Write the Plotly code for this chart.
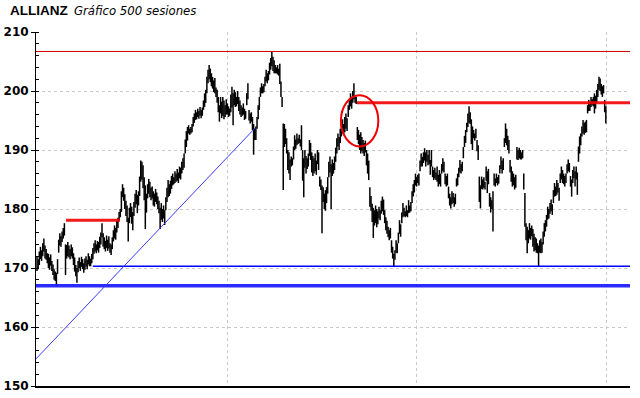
import plotly.graph_objects as go

# ---------------- data ----------------
high = [
    172.0, 171.5, 172.8, 173.6, 173.0, 174.2, 175.0, 173.8, 173.2, 172.5,
    172.4, 171.8, 172.3, 171.2, 170.6, 169.8, 169.4, 169.2, 171.5, 174.8,
    175.9, 175.4, 176.2, 176.8, 177.6, 174.0, 173.9, 174.4, 173.8, 173.2,
    174.0, 173.5, 172.5, 171.8, 170.5, 170.0, 171.2, 171.8, 171.0, 171.9,
    171.5, 170.8, 171.6, 172.0, 171.4, 172.5, 172.0, 171.6, 172.4, 173.4,
    174.2, 174.7, 174.0, 174.6, 174.4, 175.3, 176.0, 177.6, 175.9, 175.2,
    174.6, 175.5, 174.8, 175.4, 174.2, 174.0, 175.2, 176.4, 177.2, 176.8,
    178.0, 178.5, 179.5, 180.0, 183.0, 184.2, 183.6, 182.5, 181.4, 180.6,
    178.5, 180.2, 181.0, 180.4, 179.5, 181.2, 182.6, 183.2, 182.4, 183.0,
    185.5, 188.2, 188.0, 187.4, 185.4, 184.0, 182.6, 184.2, 185.1, 184.6,
    183.6, 183.8, 183.0, 182.6, 183.4, 182.8, 182.1, 181.4, 180.2, 181.0,
    180.0, 180.6, 179.8, 182.0, 183.6, 184.9, 184.2, 184.8, 185.6, 186.0,
    185.4, 186.4, 186.0, 186.8, 186.2, 187.2, 187.0, 188.0, 188.6, 189.4,
    191.8, 193.2, 193.9, 194.2, 193.6, 193.9, 194.4, 195.6, 196.2, 196.8,
    196.4, 197.0, 196.6, 197.3, 196.8, 197.2, 198.4, 199.6, 200.2, 202.4,
    203.6, 204.4, 203.8, 203.0, 202.4, 201.8, 202.2, 200.6, 200.2, 199.0,
    197.6, 199.0, 198.2, 199.0, 198.4, 197.6, 198.6, 197.9, 197.4, 197.0,
    199.4, 200.7, 199.6, 200.2, 199.8, 199.0, 200.0, 199.0, 198.4, 197.6,
    197.2, 197.9, 197.0, 196.6, 199.6, 201.3, 196.8, 196.2, 196.4, 195.6,
    194.4, 193.6, 194.0, 195.6, 197.6, 199.0, 200.6, 201.3, 200.8, 201.2,
    202.4, 203.6, 203.0, 203.4, 204.8, 205.6, 206.7, 205.8, 205.2, 204.4,
    204.0, 204.4, 203.8, 204.6, 201.6, 199.0, 194.5, 194.4, 193.6, 192.0,
    190.0, 189.6, 188.4, 188.9, 188.6, 190.6, 192.5, 191.8, 192.8, 192.0,
    192.6, 191.8, 194.2, 190.0, 188.6, 190.0, 189.0, 188.6, 189.4, 191.7,
    191.2, 189.6, 189.0, 188.6, 189.4, 188.2, 190.0, 189.6, 185.5, 185.0,
    184.0, 183.7, 182.6, 183.2, 183.7, 185.4, 188.0, 188.9, 187.6, 188.4,
    187.8, 188.9, 190.4, 192.0, 192.8, 192.2, 193.6, 194.6, 195.2, 194.4,
    195.6, 196.2, 195.4, 197.6, 198.4, 199.6, 199.0, 200.0, 201.3, 199.0,
    199.0, 193.9, 193.4, 192.6, 193.0, 192.2, 191.7, 191.2, 191.6, 190.0,
    189.4, 188.2, 183.7, 182.2, 180.9, 180.2, 179.8, 180.6, 180.0, 179.6,
    180.4, 179.8, 181.4, 182.1, 181.6, 179.8, 178.6, 178.0, 177.0, 176.4,
    176.8, 174.7, 173.6, 172.4, 173.0, 174.7, 174.2, 176.0, 178.1, 177.4,
    179.4, 181.0, 180.2, 179.6, 180.6, 179.8, 181.5, 180.6, 181.2, 183.0,
    184.2, 184.9, 186.0, 185.4, 185.8, 186.0, 188.2, 189.4, 188.8, 189.6,
    190.3, 189.6, 190.0, 189.2, 190.0, 188.3, 190.0, 187.2, 186.6, 187.0,
    186.2, 187.2, 185.8, 186.6, 186.0, 187.6, 188.6, 188.0, 186.0, 185.6,
    186.0, 183.8, 182.6, 182.0, 183.0, 182.7, 182.0, 182.6, 185.2, 186.0,
    187.0, 188.3, 187.6, 188.0, 190.5, 192.4, 193.4, 194.6, 196.2, 197.4,
    196.4, 195.2, 194.0, 193.4, 192.8, 193.6, 191.7, 190.8, 185.5, 184.0,
    185.5, 185.0, 185.4, 184.6, 187.2, 186.4, 186.8, 182.7, 182.0, 181.5,
    183.0, 186.0, 185.2, 186.0, 185.4, 185.8, 187.4, 188.9, 188.2, 188.6,
    192.0, 194.5, 193.6, 192.4, 191.7, 188.3, 187.2, 186.4, 186.0, 185.4,
    185.8, 190.5, 190.0, 190.4, 190.0, 189.6, 190.0, 186.0, 182.7, 177.6,
    177.0, 176.4, 177.6, 176.8, 177.2, 176.6, 175.8, 175.2, 175.0, 174.2,
    173.8, 174.7, 175.0, 174.4, 176.2, 177.6, 178.1, 179.0, 180.4, 180.0,
    181.0, 181.6, 180.8, 183.2, 184.4, 183.8, 184.9, 184.4, 183.6, 186.0,
    187.2, 186.6, 186.0, 185.6, 186.0, 187.6, 188.4, 187.8, 185.6, 185.0,
    186.6, 187.2, 186.4, 187.2, 186.2, 190.6, 192.3, 192.8, 194.0, 195.1,
    194.6, 194.8, 195.1, 197.6, 198.5, 198.0, 199.0, 198.6, 199.0, 199.6,
    199.2, 200.2, 201.2, 202.4, 202.1, 201.2, 200.8, 201.0, 198.5, 197.4,
]
low = [
    169.5, 169.8, 170.5, 171.5, 171.2, 172.0, 172.8, 171.6, 171.4, 170.8,
    170.0, 169.7, 170.4, 169.5, 168.8, 168.0, 167.8, 167.0, 169.0, 172.6,
    173.8, 173.6, 174.4, 175.0, 175.5, 168.8, 171.6, 172.0, 171.8, 171.5,
    172.0, 171.6, 170.5, 169.4, 168.6, 167.5, 169.3, 170.0, 169.5, 170.2,
    169.8, 169.2, 169.7, 170.2, 169.8, 170.6, 170.3, 170.3, 170.8, 171.5,
    172.4, 172.8, 172.5, 173.0, 172.6, 173.4, 174.0, 175.2, 173.6, 173.2,
    172.8, 173.4, 172.9, 173.3, 172.6, 172.2, 173.2, 174.5, 175.0, 174.8,
    176.0, 176.8, 178.0, 178.6, 179.5, 182.0, 181.4, 180.0, 178.8, 177.8,
    174.5, 177.6, 178.6, 177.5, 176.4, 178.8, 180.2, 180.8, 179.3, 180.6,
    182.2, 184.6, 185.0, 183.5, 181.5, 176.6, 179.4, 181.8, 182.6, 182.0,
    181.5, 181.8, 180.6, 180.4, 181.2, 180.8, 180.0, 179.3, 176.6, 178.2,
    177.8, 178.4, 177.3, 179.8, 181.2, 182.0, 182.2, 182.6, 183.4, 184.0,
    184.2, 184.4, 184.6, 184.8, 184.4, 185.2, 185.0, 186.0, 186.6, 187.0,
    189.4, 190.5, 191.6, 192.8, 192.6, 192.8, 193.0, 194.0, 194.6, 195.1,
    195.2, 195.6, 195.3, 195.8, 195.4, 195.8, 196.8, 197.3, 198.0, 199.6,
    201.3, 202.0, 201.5, 200.8, 200.4, 199.8, 199.6, 199.0, 198.0, 196.4,
    194.8, 196.2, 195.4, 195.8, 195.2, 195.6, 196.0, 196.0, 195.6, 195.8,
    196.4, 197.2, 194.2, 197.6, 197.3, 197.4, 197.8, 196.6, 196.0, 195.6,
    195.8, 196.0, 195.1, 195.3, 197.6, 198.6, 195.0, 194.5, 194.8, 193.4,
    189.2, 191.7, 191.7, 193.6, 195.2, 196.8, 199.0, 199.6, 199.6, 199.8,
    200.8, 201.6, 201.3, 201.8, 202.8, 203.6, 204.2, 203.4, 203.0, 203.0,
    203.0, 202.8, 202.6, 201.2, 199.0, 197.3, 183.2, 190.5, 191.0, 189.4,
    186.6, 186.0, 184.9, 187.2, 187.4, 188.4, 190.0, 190.2, 190.8, 191.0,
    191.2, 190.6, 190.0, 184.8, 182.0, 187.0, 186.0, 186.8, 187.2, 189.0,
    188.3, 186.2, 185.6, 186.0, 186.4, 185.8, 187.6, 186.6, 183.8, 183.2,
    175.9, 181.2, 180.0, 179.7, 181.0, 182.6, 185.4, 186.2, 180.0, 185.6,
    186.0, 186.6, 188.0, 189.4, 190.6, 190.0, 191.2, 192.3, 192.8, 192.6,
    193.0, 193.6, 193.2, 195.6, 196.8, 197.4, 197.0, 198.0, 198.6, 198.0,
    197.8, 191.7, 191.0, 190.0, 189.4, 189.8, 189.4, 189.0, 189.6, 187.4,
    186.0, 184.9, 180.4, 179.7, 177.8, 175.1, 177.2, 177.6, 176.9, 177.4,
    178.4, 178.1, 179.2, 179.6, 179.0, 177.6, 176.4, 175.8, 175.2, 174.7,
    175.0, 172.6, 171.6, 170.3, 171.4, 172.6, 172.5, 174.2, 175.8, 175.3,
    177.6, 178.6, 178.8, 178.6, 178.8, 178.6, 179.3, 179.4, 179.6, 181.0,
    182.1, 182.8, 184.0, 183.8, 184.4, 184.0, 186.4, 187.2, 187.2, 187.8,
    188.2, 187.2, 188.0, 187.4, 187.6, 185.8, 187.2, 185.4, 184.9, 185.2,
    184.9, 184.6, 183.8, 184.2, 183.8, 186.0, 186.4, 186.2, 184.2, 183.8,
    184.0, 181.8, 180.6, 180.1, 180.8, 181.0, 180.4, 180.8, 183.8, 184.0,
    185.4, 186.2, 186.0, 186.4, 188.6, 190.5, 191.2, 193.0, 193.9, 194.6,
    194.4, 191.0, 190.0, 192.0, 191.6, 192.0, 189.8, 188.3, 181.2, 180.1,
    183.4, 183.3, 183.6, 183.3, 184.8, 182.7, 184.2, 180.4, 179.4, 180.0,
    176.2, 184.0, 183.8, 184.4, 184.0, 184.3, 186.0, 186.8, 186.0, 186.6,
    190.5, 191.2, 190.8, 190.0, 189.4, 186.2, 184.6, 183.8, 184.0, 183.3,
    183.6, 188.4, 188.3, 188.6, 188.4, 188.4, 188.6, 183.3, 177.0, 174.7,
    172.5, 174.2, 175.0, 174.8, 175.4, 173.6, 172.8, 173.0, 172.6, 172.5,
    170.3, 172.6, 172.5, 172.6, 174.0, 175.3, 176.2, 177.0, 178.2, 178.4,
    179.2, 179.6, 179.0, 181.0, 182.1, 182.2, 182.4, 182.8, 181.4, 184.4,
    185.0, 184.4, 184.2, 183.8, 184.4, 186.0, 186.4, 186.2, 183.8, 182.1,
    184.4, 185.2, 183.8, 185.0, 182.4, 188.0, 189.4, 190.8, 192.3, 192.8,
    192.6, 192.9, 193.0, 196.2, 196.6, 196.6, 197.3, 197.6, 197.4, 196.2,
    197.0, 198.0, 199.0, 200.2, 200.0, 199.4, 199.0, 199.6, 196.4, 194.5,
]

y_ticks = [150, 160, 170, 180, 190, 200, 210]
grid_sessions = [166.7, 333.3, 500]          # vertical grid every third of the 500 sessions

# drawn levels: (price, first session)
resistance_top = 206.7
resistance_red = (198.0, 280.7)
old_resistance = (178.1, 25.4, 72.8)        # price, from session, to session
support_thin = (170.3, 48.9)
support_thick = 167.0
trend_start = (-0.9, 154.6)
trend_end = (191.2, 193.7)
circle_box = (266.6, 299.4, 190.6, 199.3)   # x0, x1, y0, y1 (session, price)

x_min, x_max = -0.9, 520.2

# ---------------- figure ----------------
xs, ys = [], []
for i, (h, l) in enumerate(zip(high, low)):
    xs += [i, i, None]
    ys += [l, h, None]

fig = go.Figure()
fig.add_trace(go.Scatter(x=xs, y=ys, mode="lines",
                         line=dict(color="black", width=1.5),
                         hoverinfo="skip", showlegend=False))

shapes = [
    dict(type="line", xref="paper", x0=0, x1=1, y0=resistance_top, y1=resistance_top,
         line=dict(color="#d00000", width=1)),
    dict(type="line", x0=resistance_red[1], x1=x_max, y0=resistance_red[0], y1=resistance_red[0],
         line=dict(color="rgba(240,0,0,0.9)", width=3)),
    dict(type="line", x0=old_resistance[1], x1=old_resistance[2],
         y0=old_resistance[0], y1=old_resistance[0],
         line=dict(color="rgba(240,0,0,0.9)", width=3)),
    dict(type="line", x0=support_thin[1], x1=x_max, y0=support_thin[0], y1=support_thin[0],
         line=dict(color="#0000ff", width=1.5)),
    dict(type="line", xref="paper", x0=0, x1=1, y0=support_thick, y1=support_thick,
         line=dict(color="rgba(20,20,255,0.9)", width=3.5)),
    dict(type="line", x0=trend_start[0], y0=trend_start[1], x1=trend_end[0], y1=trend_end[1],
         line=dict(color="#3a3aff", width=1)),
    dict(type="circle", x0=circle_box[0], x1=circle_box[1], y0=circle_box[2], y1=circle_box[3],
         line=dict(color="#f00000", width=2)),
]

fig.update_layout(
    width=640, height=398,
    margin=dict(l=36, r=10, t=32, b=12, autoexpand=False),
    paper_bgcolor="white", plot_bgcolor="white",
    shapes=shapes,
    showlegend=False,
    font=dict(family="DejaVu Sans", color="black"),
    annotations=[
        dict(text="ALLIANZ", xref="paper", yref="paper", x=-0.047, y=1.06,
             xanchor="left", yanchor="middle", showarrow=False,
             font=dict(family="Liberation Sans", size=13.5, color="black", weight="bold")),
        dict(text="<i>Gráfico 500 sesiones</i>", xref="paper", yref="paper", x=0.061, y=1.058,
             xanchor="left", yanchor="middle", showarrow=False,
             font=dict(family="DejaVu Sans", size=11.7, color="black")),
    ],
)

fig.update_xaxes(range=[x_min, x_max], showline=True, linecolor="black", linewidth=2,
                 tickvals=grid_sessions, showticklabels=False, ticks="",
                 showgrid=True, gridcolor="#c8c8d0", griddash="dot", gridwidth=1,
                 zeroline=False, fixedrange=True, automargin=False)
fig.update_yaxes(range=[150, 210], tickvals=y_ticks, showline=True, linecolor="black",
                 linewidth=1, ticks="outside", ticklen=4, tickcolor="black",
                 tickfont=dict(family="DejaVu Sans", size=12, color="black", weight="bold"),
                 showgrid=True, gridcolor="#c8c8c8", griddash="dot", gridwidth=1,
                 minor=dict(dtick=2, ticks="inside", ticklen=3, tickcolor="black",
                            showgrid=False),
                 zeroline=False, fixedrange=True, automargin=False)

fig.write_html("out.html")
